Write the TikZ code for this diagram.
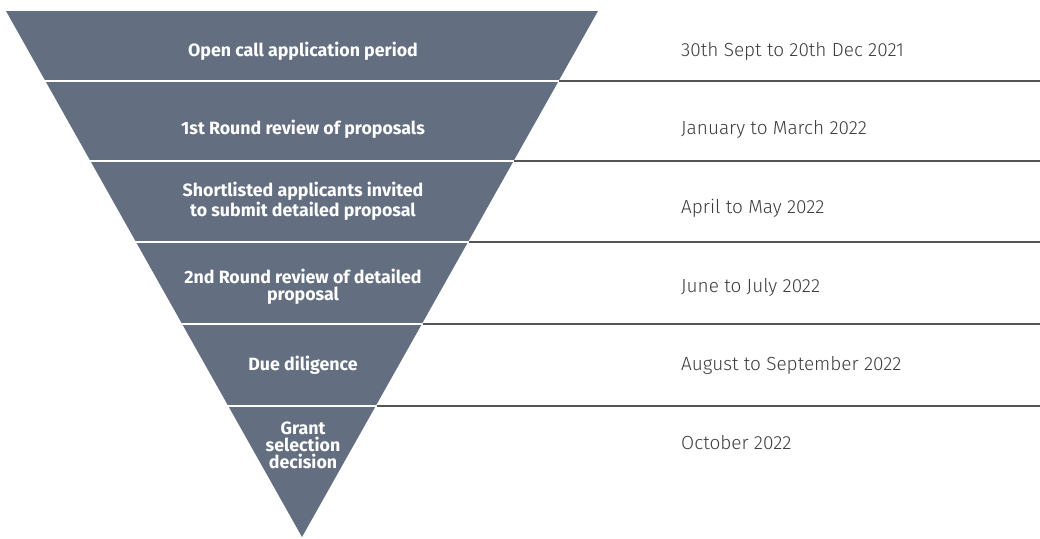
\documentclass[tikz,border=0pt]{standalone}
\usepackage{fontspec}
\setmainfont{Fira Sans}
\newfontfamily\periodfont{Fira Sans Light}
\definecolor{funnelgrey}{RGB}{99,110,128}
\definecolor{rulegrey}{RGB}{85,85,85}
\definecolor{dategrey}{RGB}{60,60,60}
\begin{document}
\begin{tikzpicture}[x=1pt,y=-1pt]
			\tikzset{stage/.style={anchor=base, text=white, font=\bfseries\fontsize{17.8}{17}\selectfont, align=center, inner sep=0},
				period/.style={anchor=base west, text=dategrey, font=\periodfont\fontsize{19}{20}\selectfont, inner sep=0},
				gap/.style={white, line width=2.5pt},
				rule/.style={rulegrey, line width=1.5pt}}
			\useasboundingbox (0,0) rectangle (1040,538);

			% funnel
			\coordinate (tl) at (6,11);
			\coordinate (tr) at (598,11);
			\coordinate (apex) at (302,537);
			\fill[funnelgrey] (tl) -- (tr) -- (apex) -- cycle;

			% divider ends: left edge, right edge, page edge
			\coordinate (l1) at (44,81);   \coordinate (r1) at (559,81);   \coordinate (e1) at (1040,81);
			\coordinate (l2) at (89,161);  \coordinate (r2) at (514,161);  \coordinate (e2) at (1040,161);
			\coordinate (l3) at (135,242); \coordinate (r3) at (469,242);  \coordinate (e3) at (1040,242);
			\coordinate (l4) at (181,324); \coordinate (r4) at (423,324);  \coordinate (e4) at (1040,324);
			\coordinate (l5) at (227,406); \coordinate (r5) at (377,406);  \coordinate (e5) at (1040,406);

			% white gaps in the funnel
			\foreach \i in {1,...,5}
				\draw[gap] (l\i) -- (r\i);

			% grey rules to the right
			\foreach \i in {1,...,5}
				\draw[rule] (r\i) -- (e\i);

			% stages (base = baseline of last line)
			\node[stage] at (303,56) (s1) {Open call application period};
			\node[stage] at (303,134.5) (s2) {1st Round review of proposals};
			\node[stage] at (303,216) (s3) {Shortlisted applicants invited\\to submit detailed proposal};
			\node[stage] at (303,300) (s4) {2nd Round review of detailed\\proposal};
			\node[stage] at (303,370) (s5) {Due diligence};
			\node[stage] at (303,468) (s6) {Grant\\selection\\decision};

			% periods
			\node[period] at (681,56) (p1) {30th Sept to 20th Dec 2021};
			\node[period] at (681,134.5) (p2) {January to March 2022};
			\node[period] at (681,213.5) (p3) {April to May 2022};
			\node[period] at (681,292.5) (p4) {June to July 2022};
			\node[period] at (681,370) (p5) {August to September 2022};
			\node[period] at (681,449) (p6) {October 2022};
		\end{tikzpicture}
\end{document}
